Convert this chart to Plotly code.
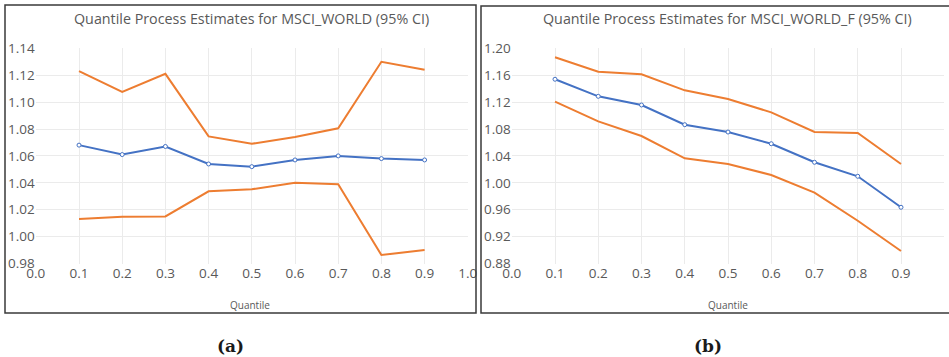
import plotly.graph_objects as go

W, H = 949, 357

quantiles = [0.1, 0.2, 0.3, 0.4, 0.5, 0.6, 0.7, 0.8, 0.9]

world_est = [1.068, 1.061, 1.067, 1.054, 1.052, 1.057, 1.060, 1.058, 1.057]
world_upper = [1.123, 1.1075, 1.121, 1.0745, 1.069, 1.074, 1.0805, 1.130, 1.124]
world_lower = [1.013, 1.0148, 1.015, 1.0337, 1.0352, 1.040, 1.039, 0.9863, 0.990]

worldf_est = [1.154, 1.1286, 1.1157, 1.0864, 1.0755, 1.0581, 1.0305, 1.0097, 0.9636]
worldf_upper = [1.1866, 1.1652, 1.1613, 1.1375, 1.1246, 1.1048, 1.0755, 1.074, 1.028]
worldf_lower = [1.1206, 1.0914, 1.0696, 1.0364, 1.028, 1.0116, 0.9853, 0.9436, 0.8986]

titles = ["Quantile Process Estimates for MSCI_WORLD (95% CI)",
          "Quantile Process Estimates for MSCI_WORLD_F (95% CI)"]
xtitle = "Quantile"
panel_labels = ["(a)", "(b)"]

BLUE = "#4472C4"
ORANGE = "#ED7D31"
TXT = "#595959"
GRID = "#EBEBEB"
FONT = "Open Sans"

def px_x(v):
    return v / W

def px_y(v):
    return 1 - v / H

fig = go.Figure()

panels = [
    ("x", "y", world_est, world_upper, world_lower),
    ("x2", "y2", worldf_est, worldf_upper, worldf_lower),
]
for xa, ya, est, up, lo in panels:
    fig.add_trace(go.Scatter(x=quantiles, y=up, xaxis=xa, yaxis=ya, mode="lines",
                             line=dict(color=ORANGE, width=2), showlegend=False))
    fig.add_trace(go.Scatter(x=quantiles, y=lo, xaxis=xa, yaxis=ya, mode="lines",
                             line=dict(color=ORANGE, width=2), showlegend=False))
    fig.add_trace(go.Scatter(x=quantiles, y=est, xaxis=xa, yaxis=ya, mode="lines+markers",
                             line=dict(color=BLUE, width=2),
                             marker=dict(size=4, color="white", line=dict(color=BLUE, width=1)),
                             showlegend=False))

ydom = [px_y(263.5), px_y(48.3)]
common_x = dict(range=[0, 1], dtick=0.1, tick0=0, tickformat=".1f", showgrid=True,
                gridcolor=GRID, gridwidth=1, zeroline=False, showline=False, automargin=False,
                tickfont=dict(family=FONT, size=13.5, color=TXT), ticks="")
common_y = dict(showgrid=True, gridcolor=GRID, gridwidth=1, zeroline=False, showline=False,
                automargin=False, ticklabelstandoff=0,
                tickformat=".2f", tickfont=dict(family=FONT, size=13.5, color=TXT), ticks="")

fig.update_layout(
    width=W, height=H,
    margin=dict(l=0, r=0, t=0, b=0, autoexpand=False),
    paper_bgcolor="white", plot_bgcolor="white",
    xaxis=dict(domain=[px_x(35.8), px_x(467.8)], anchor="y", **common_x),
    yaxis=dict(domain=ydom, anchor="x", range=[0.98, 1.14], dtick=0.02, tick0=0.98, **common_y),
    xaxis2=dict(domain=[px_x(511.75), px_x(944.25)], anchor="y2", **common_x),
    yaxis2=dict(domain=ydom, anchor="x2", range=[0.88, 1.20], dtick=0.04, tick0=0.88, **common_y),
)

shapes = [
    dict(type="rect", xref="paper", yref="paper", x0=px_x(5), x1=px_x(476),
         y0=px_y(313), y1=px_y(5), line=dict(color="#3a3a3a", width=1.5)),
    dict(type="rect", xref="paper", yref="paper", x0=px_x(481), x1=px_x(955),
         y0=px_y(313), y1=px_y(6), line=dict(color="#3a3a3a", width=1.5)),
]
fig.update_layout(shapes=shapes)

anns = []
for cx, t in zip([251.7, 727.8], titles):
    anns.append(dict(text=t, x=px_x(cx), y=px_y(18), xref="paper", yref="paper",
                     showarrow=False, xanchor="center", yanchor="middle",
                     font=dict(family=FONT, size=14.3, color=TXT)))
for cx in [250, 728]:
    anns.append(dict(text=xtitle, x=px_x(cx), y=px_y(305), xref="paper", yref="paper",
                     showarrow=False, xanchor="center", yanchor="middle",
                     font=dict(family=FONT, size=10, color=TXT)))
for cx, t in zip([230, 708], panel_labels):
    anns.append(dict(text="<b>" + t + "</b>", x=px_x(cx), y=px_y(346), xref="paper", yref="paper",
                     showarrow=False, xanchor="center", yanchor="middle",
                     font=dict(family="DejaVu Serif", size=17, color="#1a1a1a")))
fig.update_layout(annotations=anns)

fig.write_html("out.html",
               config={"displayModeBar": False},
               post_script="document.body.style.margin='0';document.body.style.overflow='hidden';")
